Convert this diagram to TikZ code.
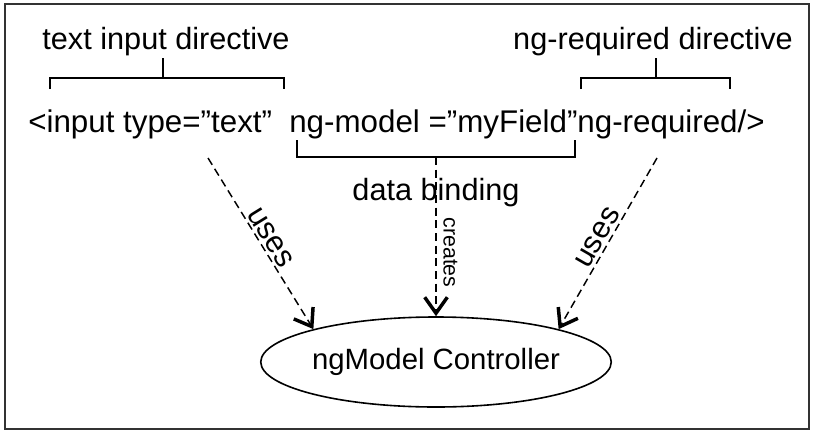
\documentclass[tikz,border=0pt]{standalone}
\usepackage{fontspec}
\setmainfont{Liberation Sans}
\usetikzlibrary{arrows.meta,shapes.geometric}

\begin{document}
\begin{tikzpicture}[x=0.75pt,y=-0.75pt,
  txt/.style={font=\fontsize{23}{27}\selectfont,inner sep=0pt},
  small/.style={font=\fontsize{16}{19}\selectfont,inner sep=5pt},
  brace/.style={line width=1.4pt},
  link/.style={line width=1.1pt,dash pattern=on 6pt off 3.5pt,
    -{Straight Barb[length=12pt,width=17pt,line width=2.6pt]}}]
% Frame
\useasboundingbox (0,0) rectangle (816,435);
\draw[line width=1.5pt,black!80] (5,4) rectangle (809,429);

% Texts
\node[txt,font=\fontsize{23.5}{28}\selectfont,anchor=base west] (tag) at (28,132) {<input type=”text”\hspace{0.55em}ng-model =”myField”ng-required/>};
\node[txt,anchor=base] (textdir) at (166,50) {text input directive};
\node[txt,anchor=base] (reqdir) at (653,50) {ng-required directive};
\node[txt,anchor=base] (binding) at (436,200) {data binding};

% Controller
\node[txt,font=\fontsize{22}{26}\selectfont,ellipse,draw,line width=1.2pt,minimum width=246pt,minimum height=67.5pt] (ctrl) at (436,362) {ngModel Controller};

% Brackets
\foreach \a/\b/\m in {50/284/163,581/730/656} {
  \draw[brace] (\a,89) -- (\a,78) -- (\b,78) -- (\b,89);
  \draw[brace] (\m,78) -- (\m,58);
}
\draw[brace] (297,140) -- (297,157) -- (575,157) -- (575,140);

% Links
\coordinate (useL) at (208,158);
\coordinate (useR) at (657,158);
\coordinate (bind) at (436,157);
\draw[link] (useL) -- node[txt,sloped,above=2pt] {uses} (ctrl.165);
\draw[link] (useR) -- node[txt,sloped,above=2pt] {uses} (ctrl.15);
\draw[link] (bind) -- node[small,rotate=-90,anchor=south,pos=0.6] {creates} (ctrl.north);

\end{tikzpicture}
\end{document}
